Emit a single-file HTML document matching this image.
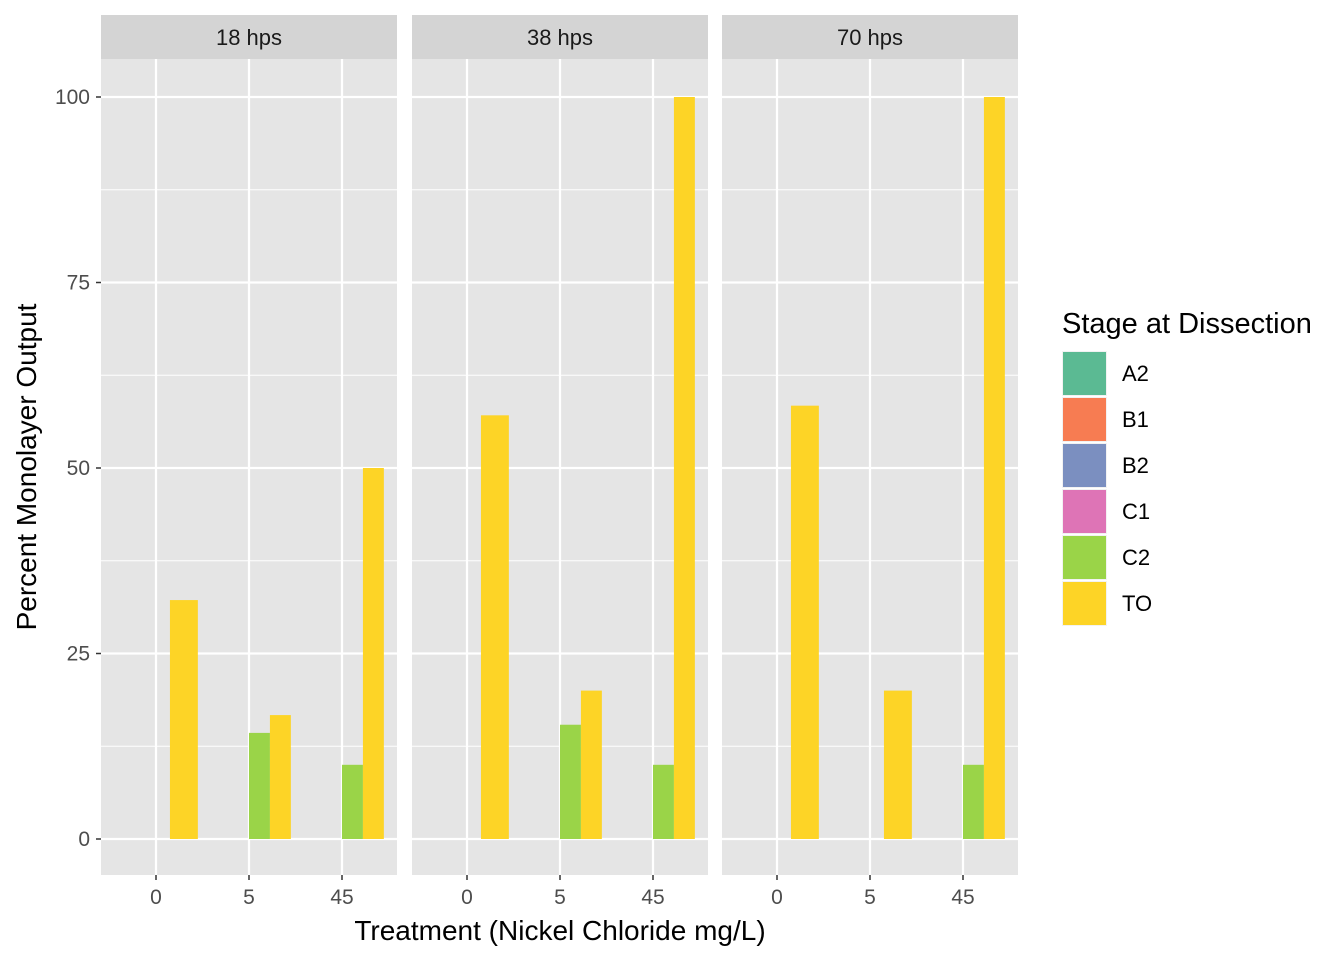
<!DOCTYPE html>
<html><head><meta charset="utf-8">
<style>body{margin:0;background:#fff}svg{display:block;font-family:"Liberation Sans",Arial,sans-serif}</style>
</head><body>
<svg id="chart" width="1344" height="960" xmlns="http://www.w3.org/2000/svg"></svg>
<script>
const panels = ["18 hps","38 hps","70 hps"];
const categories = ["0","5","45"];
const stages = ["A2","B1","B2","C1","C2","TO"];
const stageColors = ["#5BBA93","#F77C52","#7B8FC0","#DE74B6","#9AD448","#FDD426"];
const yTicks = [0,25,50,75,100];
// per panel, per category: stages present (dodge groups) and values
const groupStages = [
  [["A2","B1","TO"],["A2","B1","C2","TO"],["A2","B1","C2","TO"]],
  [["A2","B1","TO"],["A2","B1","C2","TO"],["A2","B1","C2","TO"]],
  [["A2","B1","TO"],["A2","B1","TO"],["A2","B1","C2","TO"]]
];
const groupValues = [
  [[0,0,32.2],[0,0,14.3,16.7],[0,0,10,50]],
  [[0,0,57.1],[0,0,15.4,20],[0,0,10,100]],
  [[0,0,58.4],[0,0,20],[0,0,10,100]]
];
const svgEl = document.getElementById('chart');
const NS = "http://www.w3.org/2000/svg";
function mk(tag, attrs, parent){const e=document.createElementNS(NS,tag);for(const k in attrs)e.setAttribute(k,attrs[k]);(parent||svgEl).appendChild(e);return e;}
const panelX=[101,412,722], panelW=296, panelTop=59, panelBottom=875;
function yScale(v){ return 839 - v*7.42; }
function xc(p,i){ return panelX[p] + 55 + i*93; }
panels.forEach((name,p)=>{
  const g = mk('g',{});
  
  
  const s = mk('rect',{x:panelX[p],y:15,width:panelW,height:44,fill:'#D4D4D4'},g);
  
  
  const st = mk('text',{x:panelX[p]+panelW/2,y:45,'font-size':22,'text-anchor':'middle',fill:'#1A1A1A'},g);
  st.textContent=name;
  
  
  mk('rect',{x:panelX[p],y:panelTop,width:panelW,height:panelBottom-panelTop,fill:'#E5E5E5'},g);
  for(let i=0;i<yTicks.length-1;i++){const v=(yTicks[i]+yTicks[i+1])/2;mk('line',{x1:panelX[p],x2:panelX[p]+panelW,y1:yScale(v),y2:yScale(v),stroke:'#fff','stroke-width':1},g);}
  yTicks.forEach(v=>mk('line',{x1:panelX[p],x2:panelX[p]+panelW,y1:yScale(v),y2:yScale(v),stroke:'#fff','stroke-width':2.2},g));
  categories.forEach((c,i)=>{
    mk('line',{x1:xc(p,i),x2:xc(p,i),y1:panelTop,y2:panelBottom,stroke:'#fff','stroke-width':2.2},g);
    mk('line',{x1:xc(p,i),x2:xc(p,i),y1:panelBottom,y2:panelBottom+5,stroke:'#333','stroke-width':1.5});
    const t=mk('text',{x:xc(p,i),y:904,'font-size':21,'text-anchor':'middle',fill:'#4D4D4D'});
    t.textContent=c;
    
    
    const n=groupStages[p][i].length, bw=0.9*93/n, x0=xc(p,i)-0.45*93;
    groupStages[p][i].forEach((sg,j)=>{
      const v=groupValues[p][i][j]; if(v<=0) return;
      const b=mk('rect',{x:x0+j*bw,y:yScale(v),width:bw,height:yScale(0)-yScale(v),fill:stageColors[stages.indexOf(sg)]},g);
      
      
    });
  });
});
yTicks.forEach(v=>{
  mk('line',{x1:96,x2:101,y1:yScale(v),y2:yScale(v),stroke:'#333','stroke-width':1.5});
  const t=mk('text',{x:90,y:yScale(v)+7,'font-size':21,'text-anchor':'end',fill:'#4D4D4D'});
  t.textContent=v;
  
  
});
const xt=mk('text',{x:560,y:940,'font-size':28,'text-anchor':'middle',fill:'#000'});
xt.textContent="Treatment (Nickel Chloride mg/L)";


const yt=mk('text',{x:0,y:0,'font-size':28,'text-anchor':'middle',fill:'#000',transform:'translate(36,467) rotate(-90)'});
yt.textContent="Percent Monolayer Output";


const lt=mk('text',{x:1062,y:333,'font-size':29,fill:'#000'});
lt.textContent="Stage at Dissection";


stages.forEach((sg,i)=>{
  const ky=351+i*46;
  const e=mk('g',{});
  
  
  mk('rect',{x:1062,y:ky,width:45,height:45,fill:'#F2F2F2'},e);
  mk('rect',{x:1063,y:ky+1,width:43,height:43,fill:stageColors[i]},e);
  const t=mk('text',{x:1122,y:ky+30,'font-size':22,fill:'#000'},e);
  t.textContent=sg;
});
</script>
</body></html>
